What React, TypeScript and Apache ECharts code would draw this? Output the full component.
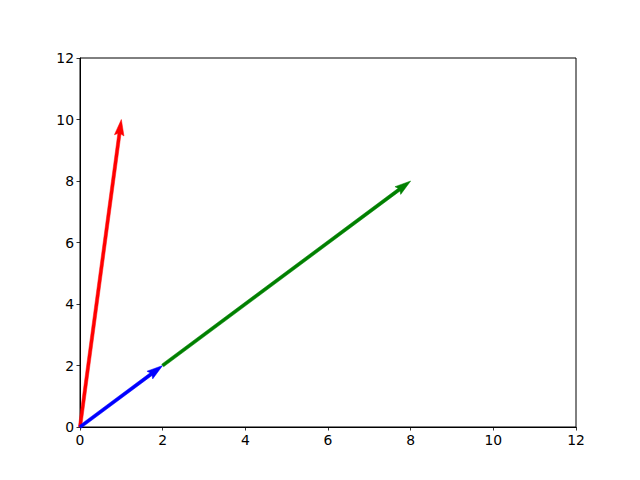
import React, { useEffect, useRef } from "react";
import * as echarts from "echarts";

// Quiver vectors: start x, start y, end x, end y
const startX = [0, 0, 2];
const startY = [0, 0, 2];
const endX = [1, 2, 8];
const endY = [10, 2, 8];
const arrowColors = ["#ff0000", "#0000ff", "#008000"];
const tickValues = [0, 2, 4, 6, 8, 10, 12];

export default function App() {
  const ref = useRef<HTMLDivElement>(null);
  useEffect(() => {
    if (!ref.current) return;
    const chart = echarts.init(ref.current, undefined, { renderer: "svg" });
    const data = startX.map((_, i) => [startX[i], startY[i], endX[i], endY[i]]);
    const w = 3.2;
    const hw = w / 2;
    const headLen = 5 * w;
    const headAxis = 4.5 * w;
    const headHalf = 1.5 * w;
    const axisCommon = {
      min: tickValues[0],
      max: tickValues[tickValues.length - 1],
      interval: 2,
      axisLine: { show: true, lineStyle: { color: "#000", width: 1 } },
      axisTick: { show: true, inside: false, length: 3.5, lineStyle: { color: "#000", width: 0.8 } },
      axisLabel: { color: "#000", fontFamily: "DejaVu Sans", fontSize: 13.9, margin: 6 },
      splitLine: { show: false },
    };
    chart.setOption({
      animation: false,
      backgroundColor: "#ffffff",
      grid: {
        left: 80,
        right: 64,
        top: 58,
        bottom: 53,
        show: true,
        borderColor: "#000",
        borderWidth: 1,
        backgroundColor: "transparent",
      },
      xAxis: { type: "value", ...axisCommon },
      yAxis: { type: "value", ...axisCommon },
      series: [
        {
          type: "custom",
          coordinateSystem: "cartesian2d",
          encode: { x: [0, 2], y: [1, 3] },
          data,
          clip: false,
          renderItem: (params: any, api: any) => {
            const s = api.coord([api.value(0), api.value(1)]);
            const t = api.coord([api.value(2), api.value(3)]);
            const dx = t[0] - s[0];
            const dy = t[1] - s[1];
            const len = Math.sqrt(dx * dx + dy * dy) || 1;
            const ux = dx / len;
            const uy = dy / len;
            const nx = -uy;
            const ny = ux;
            const p = (base: number[], along: number, side: number) => [
              base[0] + ux * along + nx * side,
              base[1] + uy * along + ny * side,
            ];
            const points = [
              p(s, 0, hw),
              p(t, -headAxis, hw),
              p(t, -headLen, headHalf),
              t,
              p(t, -headLen, -headHalf),
              p(t, -headAxis, -hw),
              p(s, 0, -hw),
            ];
            return {
              type: "polygon",
              shape: { points },
              style: { fill: arrowColors[params.dataIndex], stroke: arrowColors[params.dataIndex], lineWidth: 0.5 },
            };
          },
        },
      ],
    });
    return () => chart.dispose();
  }, []);
  return (
    <div
      ref={ref}
      style={{ position: "fixed", left: 0, top: 0, width: 640, height: 480 }}
    />
  );
}
